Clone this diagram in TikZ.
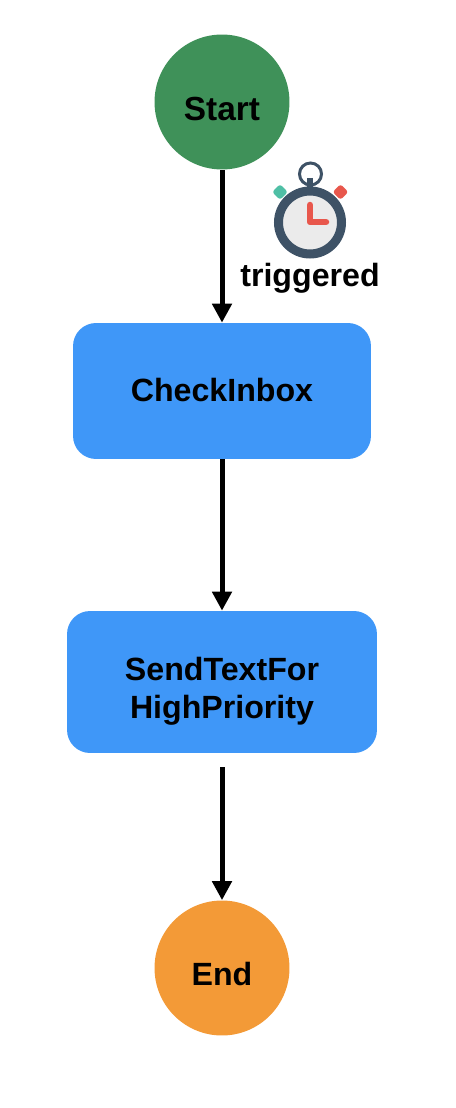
\documentclass[tikz,border=0pt]{standalone}
\usepackage{fontspec}
\setmainfont{Liberation Sans}
\usetikzlibrary{arrows.meta}
\definecolor{startgreen}{HTML}{3F9159}
\definecolor{taskblue}{HTML}{3F97F8}
\definecolor{endorange}{HTML}{F39A37}
\definecolor{clockslate}{HTML}{3E5266}
\definecolor{clockface}{HTML}{EBEBEB}
\definecolor{clockred}{HTML}{E8574C}
\definecolor{clockteal}{HTML}{4FBFA5}
\tikzstyle{lbl} = [font=\fontsize{18.3}{21.5}\selectfont\bfseries,text=black,align=center,inner sep=0]
\tikzstyle{state} = [lbl,circle,minimum size=2.7cm]
\tikzstyle{task} = [lbl,draw=none,fill=taskblue,rounded corners=0.46cm]
\tikzstyle{knob} = [rounded corners=0.05cm,rotate=45,minimum size=0.22cm,inner sep=0]
\begin{document}
\begin{tikzpicture}[x=0.02cm,y=-0.02cm,post/.style={-{Triangle[length=0.38cm,width=0.38cm]},line width=0.1cm,black}]
    \useasboundingbox (0,0) rectangle (456,1108);

    \node[state,fill=startgreen,font=\fontsize{19}{22}\selectfont\bfseries,text height=21pt] (start) at (222,102) {Start};
    \node[task,minimum width=5.96cm,minimum height=2.72cm,text depth=1.2pt] (check) at (222,391) {CheckInbox};
    \node[task,minimum width=6.2cm,minimum height=2.84cm,text height=45.6pt] (send) at (222,682) {SendTextFor\\HighPriority};
    \node[state,fill=endorange,text height=20pt] (end) at (222,968) {End};

    \node[lbl] (trig) at (310,278) {triggered};

    \draw[post] (start) -- (check);
    \draw[post] (check) -- (send);
    \draw[post,shorten <=0.28cm] (send) -- (end);

    % stopwatch
    \draw[clockslate,line width=0.06cm] (310.5,174) circle (11);
    \draw[clockslate,line width=0.12cm] (310,178) -- (310,192);
    \node[knob,fill=clockteal] (btnl) at (280,192) {};
    \node[knob,fill=clockred] (btnr) at (340.5,192) {};
    \draw[fill=clockface,draw=clockslate,line width=0.18cm] (310,222.5) circle (31.5);
    \draw[clockred,line width=0.13cm,line cap=round,line join=round] (310,205) -- (310,222) -- (326,222);

\end{tikzpicture}
\end{document}
